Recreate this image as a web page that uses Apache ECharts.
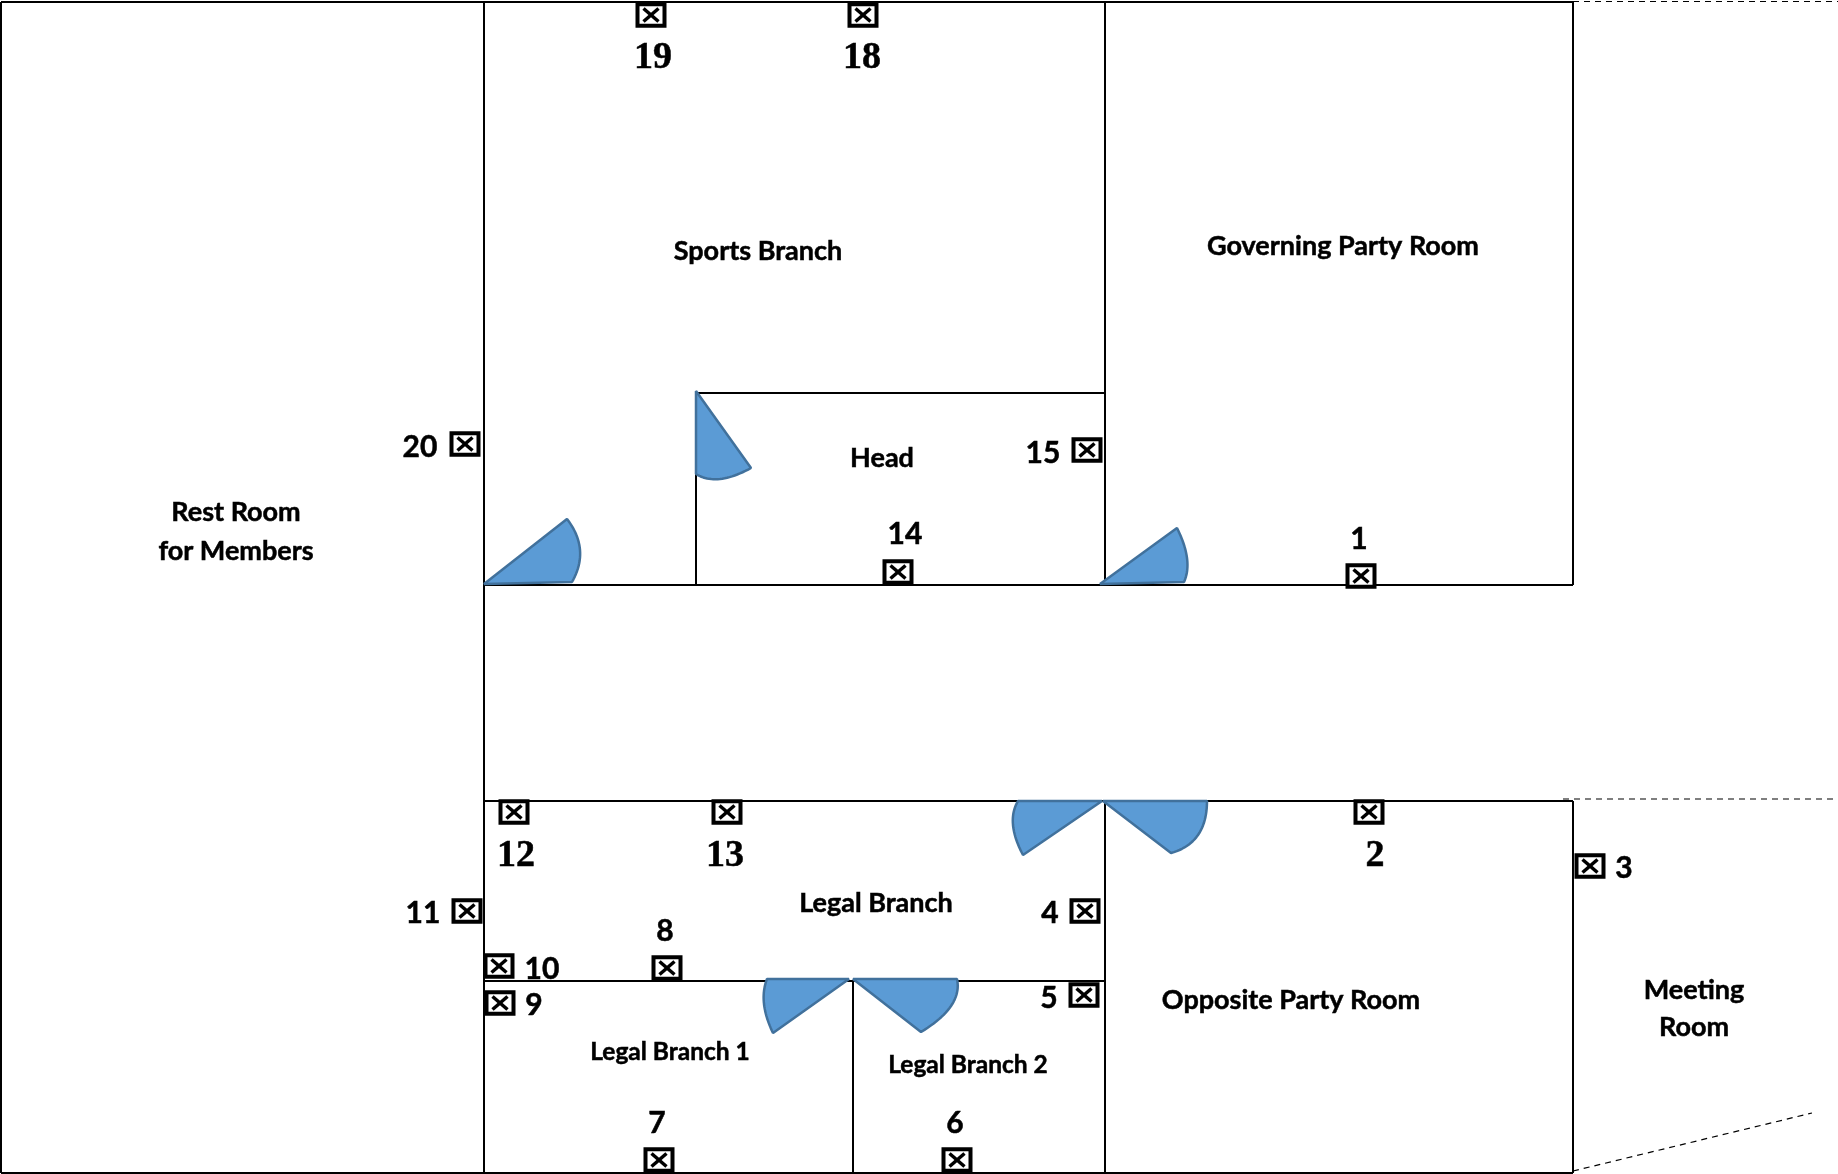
<!DOCTYPE html>
<html>
<head>
<meta charset="utf-8">
<style>html,body{margin:0;padding:0;background:#fff}#c{width:1838px;height:1174px}</style>
<script src="https://cdn.jsdelivr.net/npm/echarts@6/dist/echarts.min.js"></script>
</head>
<body>
<div id="c"></div>
<script>
// Plan units: one unit is one pixel of the reference plan.
const solidWalls = [
  [[1,2],[1573,2]], [[1,1173],[1573,1173]], [[1,2],[1,1173]],
  [[484,2],[484,1173]], [[1573,2],[1573,585]], [[1573,801],[1573,1173]],
  [[484,585],[1573,585]], [[484,801],[1573,801]], [[484,981],[1105,981]],
  [[1105,2],[1105,585]], [[1105,801],[1105,1173]],
  [[696,393],[1105,393]], [[696,393],[696,585]], [[853,981],[853,1173]]
];
const dashedWalls = [
  [[1573,1.5],[1838,1.5]], [[1563,799],[1838,799]], [[1573,1171],[1812,1113]]
];
// pivot, arm end A, arc middle, arm end B
const doors = [
  [[484,584],[567,519],[580,550],[572,582]],
  [[696,391],[751,468],[720,479],[696,474]],
  [[1100,584],[1177,528],[1187,558],[1184,582]],
  [[1102,801],[1018,801],[1013,825],[1023,855]],
  [[1103,801],[1207,801],[1198,835],[1171,853]],
  [[849,979],[767,979],[764,1004],[773,1033]],
  [[853,979],[957,979],[951,1006],[921,1032]]
];
const sensors = [
  [1361,576],[1369,812],[1590,866],[1085,911],[1084,995],[957,1160],[659,1160],
  [667,968],[500,1003],[499,966],[467,911],[514,812],[727,812],[898,572],
  [1087,450],[863,15],[651,15],[465,444]
];
const sansNumbers = [
  ['1',1359,538],['3',1624,867],['4',1050,912],['5',1049,997],['6',955,1122],['7',657,1122],
  ['8',665,930],['9',534,1004],['10',542,968],['11',423,912],['14',905,533],['15',1043,452],['20',420,446]
];
const serifNumbers = [
  ['2',1375,854],['12',516,854],['13',725,854],['18',862,56],['19',653,56]
];
const roomNames = [
  ['Sports Branch',758,251],['Governing Party Room',1343,246],['Head',882,458],
  ['Rest Room',236,512],['for Members',236,551],['Legal Branch',876,903],
  ['Opposite Party Room',1291,1000],['Meeting',1694,990],['Room',1694,1027]
];
const smallRoomNames = [['Legal Branch 1',670,1052],['Legal Branch 2',968,1065]];

const segSeries = (name, segs, style) => ({
  type:'custom', name, silent:true, coordinateSystem:'cartesian2d', clip:false,
  data: segs.map(s => [s[0][0],s[0][1],s[1][0],s[1][1]]),
  encode:{x:[0,2],y:[1,3]},
  renderItem:(p,api)=>{
    const a=api.coord([api.value(0),api.value(1)]), b=api.coord([api.value(2),api.value(3)]);
    return {type:'line',shape:{x1:a[0],y1:a[1],x2:b[0],y2:b[1]},style};
  }
});
const textSeries = (name, rows, label) => ({
  type:'scatter', name, silent:true, symbolSize:0, clip:false,
  itemStyle:{opacity:1},
  data: rows.map(r => ({name:r[0], value:[r[1],r[2]]})),
  label:Object.assign({show:true,position:'inside',formatter:'{b}',color:'#000',opacity:1,align:'center',verticalAlign:'middle',
    textBorderColor:'#000',textBorderWidth:0.5,offset:[0,0.5]},label)
});

const option = {
  animation:false,
  backgroundColor:'#fff',
  grid:{left:0,right:0,top:0,bottom:0},
  xAxis:{type:'value',min:0,max:1838,show:false},
  yAxis:{type:'value',min:0,max:1174,inverse:true,show:false},
  series:[
    segSeries('walls',solidWalls,{stroke:'#000',lineWidth:2,fill:null}),
    segSeries('open edges',dashedWalls,{stroke:'#000',lineWidth:1.2,lineDash:[6,5],fill:null}),
    {
      type:'custom', name:'doors', silent:true, clip:false,
      data: doors.map(d => d.flat()),
      encode:{x:[0,2,4,6],y:[1,3,5,7]},
      renderItem:(p,api)=>{
        const pt=i=>api.coord([api.value(i*2),api.value(i*2+1)]);
        const o=pt(0),a=pt(1),m=pt(2),b=pt(3);
        const c=[2*m[0]-(a[0]+b[0])/2, 2*m[1]-(a[1]+b[1])/2];
        const points=[o];
        for(let i=0;i<=24;i++){
          const t=i/24,u=1-t;
          points.push([u*u*a[0]+2*u*t*c[0]+t*t*b[0], u*u*a[1]+2*u*t*c[1]+t*t*b[1]]);
        }
        return {type:'polygon',shape:{points},style:{fill:'#5B9BD5',stroke:'#41719C',lineWidth:2.5,lineJoin:'bevel'}};
      }
    },
    {
      type:'custom', name:'sensors', silent:true, clip:false,
      data:sensors, encode:{x:0,y:1},
      renderItem:(p,api)=>{
        const c=api.coord([api.value(0),api.value(1)]), w=13.5, h=10.7, kx=7.5, ky=6.5;
        return {type:'group',children:[
          {type:'rect',shape:{x:c[0]-w,y:c[1]-h,width:2*w,height:2*h},style:{fill:'#fff',stroke:'#000',lineWidth:4}},
          {type:'line',shape:{x1:c[0]-kx,y1:c[1]-ky,x2:c[0]+kx,y2:c[1]+ky},style:{stroke:'#000',lineWidth:3.5}},
          {type:'line',shape:{x1:c[0]-kx,y1:c[1]+ky,x2:c[0]+kx,y2:c[1]-ky},style:{stroke:'#000',lineWidth:3.5}}
        ]};
      }
    },
    textSeries('sans numbers',sansNumbers,{fontFamily:'Lato',fontWeight:'bold',fontSize:30,offset:[0,1.2]}),
    textSeries('serif numbers',serifNumbers,{fontFamily:'Liberation Serif',fontWeight:'bold',fontSize:38,offset:[0,1.8]}),
    textSeries('rooms',roomNames,{fontFamily:'Lato',fontWeight:'bold',fontSize:27}),
    textSeries('small rooms',smallRoomNames,{fontFamily:'Lato',fontWeight:'bold',fontSize:24.5})
  ]
};
echarts.init(document.getElementById('c'),null,{renderer:'canvas'}).setOption(option);
</script>
</body>
</html>
